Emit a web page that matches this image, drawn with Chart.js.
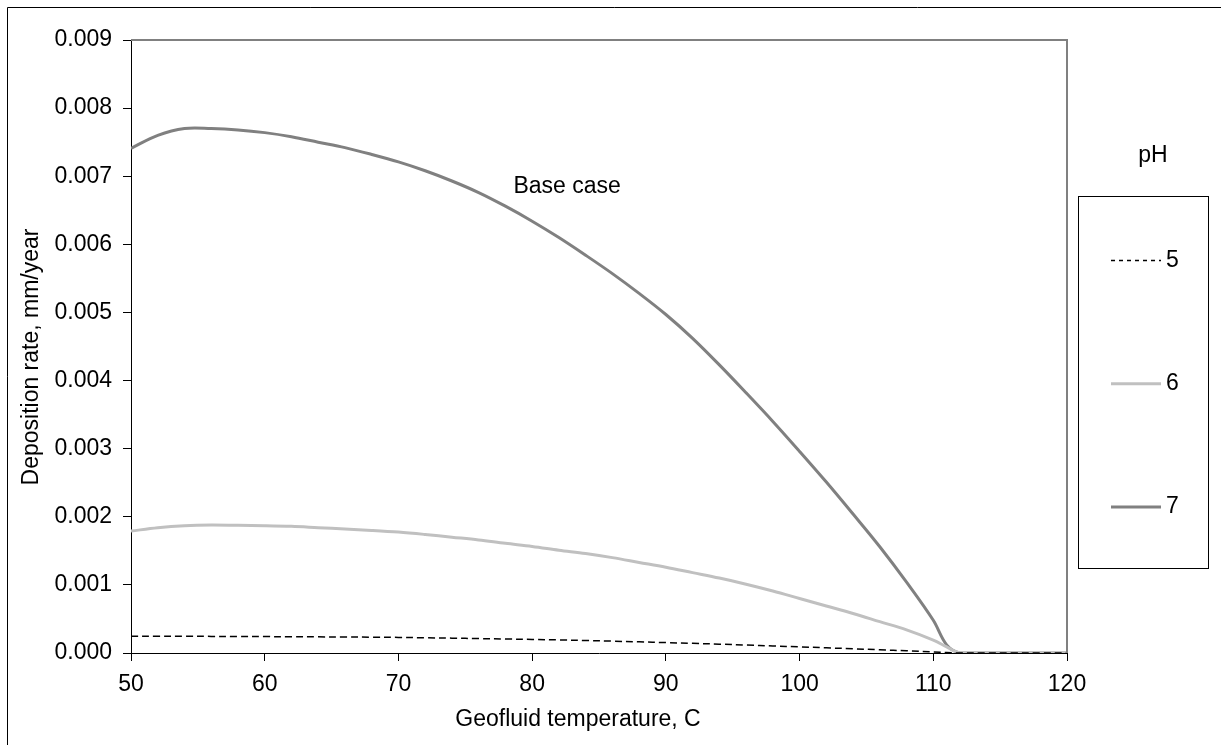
<!DOCTYPE html>
<html>
<head>
<meta charset="utf-8">
<script src="https://cdn.jsdelivr.net/npm/chart.js@4"></script>
<style>
  html, body { margin: 0; padding: 0; background: #fff; }
  canvas { display: block; }
</style>
</head>
<body>
<canvas id="chart" width="1221" height="745"></canvas>
<script>
// Geofluid temperature, C
const temperatures = [50, 52, 54, 56, 58, 60, 62, 64, 66, 68, 70, 72, 74, 76, 78, 80, 82, 84, 86, 88,
  90, 92, 94, 96, 98, 100, 102, 104, 106, 108, 110, 111, 112, 114, 116, 118, 120];

// Deposition rate, mm/year, one list per pH
const rate_pH5 = [0.000245, 0.000245, 0.000245, 0.000244, 0.000243, 0.000241, 0.000239, 0.000237,
  0.000235, 0.000232, 0.000229, 0.000224, 0.000218, 0.000212, 0.000206, 0.000199, 0.000192, 0.000183,
  0.000174, 0.000164, 0.000153, 0.000142, 0.000130, 0.000117, 0.000104, 0.000090, 0.000076, 0.000062,
  0.000047, 0.000032, 0.000016, 0.000008, 0, 0, 0, 0, 0];
const rate_pH6 = [0.00179, 0.00184, 0.00187, 0.00188, 0.001875, 0.00187, 0.00186, 0.00184, 0.00182,
  0.00180, 0.001775, 0.00174, 0.00170, 0.00166, 0.00161, 0.001565, 0.00151, 0.00146, 0.00140, 0.00133,
  0.00126, 0.00118, 0.00110, 0.00101, 0.00091, 0.00080, 0.00069, 0.00058, 0.00046, 0.00034, 0.00019,
  0.00009, 0, 0, 0, 0, 0];
const rate_pH7 = [0.00741, 0.00760, 0.00770, 0.00770, 0.00768, 0.00764, 0.00758, 0.00750, 0.00742,
  0.00732, 0.00721, 0.00708, 0.00693, 0.00676, 0.00656, 0.00634, 0.00610, 0.00584, 0.00557, 0.00528,
  0.00497, 0.00462, 0.00423, 0.00382, 0.00340, 0.00296, 0.00251, 0.00204, 0.00156, 0.00104, 0.00048,
  0.00012, 0, 0, 0, 0, 0];

const seriesLabels = ['5', '6', '7'];
const xTitle = 'Geofluid temperature, C';
const yTitle = 'Deposition rate, mm/year';
const legendTitle = 'pH';
const note = { text: 'Base case', x: 78.6, y: 0.00684 };

const FONT = "'Liberation Sans', Arial, sans-serif";
const fontSize = 23;

function points(ys) {
  return temperatures.map((t, i) => ({ x: t, y: ys[i] }));
}

// Frame, axis titles, note and the boxed legend on the right
const decorations = {
  id: 'decorations',
  afterDraw(chart) {
    const { ctx, chartArea: a, scales } = chart;
    ctx.save();

    ctx.strokeStyle = '#000';
    ctx.lineWidth = 1;
    ctx.beginPath();
    ctx.moveTo(7.5, 745);
    ctx.lineTo(7.5, 7.5);
    ctx.lineTo(1221, 7.5);
    ctx.stroke();

    ctx.strokeStyle = '#808080';
    ctx.lineWidth = 2;
    ctx.beginPath();
    ctx.moveTo(a.left, a.top);
    ctx.lineTo(a.right, a.top);
    ctx.lineTo(a.right, a.bottom);
    ctx.stroke();

    ctx.fillStyle = '#000';
    ctx.font = fontSize + 'px ' + FONT;
    ctx.textBaseline = 'middle';

    ctx.textAlign = 'center';
    ctx.fillText(xTitle, 578, 720);
    ctx.save();
    ctx.translate(32, 357);
    ctx.rotate(-Math.PI / 2);
    ctx.fillText(yTitle, 0, 0);
    ctx.restore();

    ctx.textAlign = 'left';
    ctx.fillText(note.text, scales.x.getPixelForValue(note.x), scales.y.getPixelForValue(note.y));

    // legend
    ctx.textAlign = 'center';
    ctx.fillText(legendTitle, 1153, 156);
    ctx.strokeStyle = '#000';
    ctx.lineWidth = 1;
    ctx.strokeRect(1078.5, 196.5, 130, 372);
    chart.data.datasets.forEach((ds, i) => {
      const y = 260.5 + i * 123.3;
      ctx.save();
      ctx.strokeStyle = ds.borderColor;
      ctx.lineWidth = ds.borderWidth;
      ctx.setLineDash(ds.borderDash && ds.borderDash.length ? [4, 4] : []);
      ctx.beginPath();
      ctx.moveTo(1111, y);
      ctx.lineTo(1161, y);
      ctx.stroke();
      ctx.restore();
      ctx.textAlign = 'left';
      ctx.fillText(ds.label, 1166, y);
    });
    ctx.restore();
  }
};

new Chart(document.getElementById('chart').getContext('2d'), {
  type: 'line',
  data: {
    datasets: [
      { label: seriesLabels[0], data: points(rate_pH5), borderColor: '#000000', borderWidth: 1.5, borderDash: [7, 4] },
      { label: seriesLabels[1], data: points(rate_pH6), borderColor: '#c0c0c0', borderWidth: 3 },
      { label: seriesLabels[2], data: points(rate_pH7), borderColor: '#808080', borderWidth: 3 },
    ],
  },
  options: {
    responsive: false,
    animation: false,
    devicePixelRatio: 1,
    layout: { padding: { top: 40, right: 154, bottom: 0, left: 0 } },
    elements: {
      point: { radius: 0 },
      line: { tension: 0.35, fill: false },
    },
    plugins: {
      legend: { display: false },
      tooltip: { enabled: false },
    },
    scales: {
      x: {
        type: 'linear',
        min: 50,
        max: 120,
        afterFit: (scale) => { scale.height = 92; },
        ticks: { stepSize: 10, color: '#000', padding: 10, font: { family: FONT, size: fontSize } },
        grid: { drawOnChartArea: false, tickLength: 8, color: '#000' },
        border: { color: '#000', width: 1 },
      },
      y: {
        min: 0,
        max: 0.009,
        afterFit: (scale) => { scale.width = 131; },
        ticks: {
          stepSize: 0.001,
          color: '#000',
          padding: 11,
          font: { family: FONT, size: fontSize },
          callback: (v) => Number(v).toFixed(3),
        },
        grid: { drawOnChartArea: false, tickLength: 8, color: '#000' },
        border: { color: '#000', width: 1 },
      },
    },
  },
  plugins: [decorations],
});
</script>
</body>
</html>
